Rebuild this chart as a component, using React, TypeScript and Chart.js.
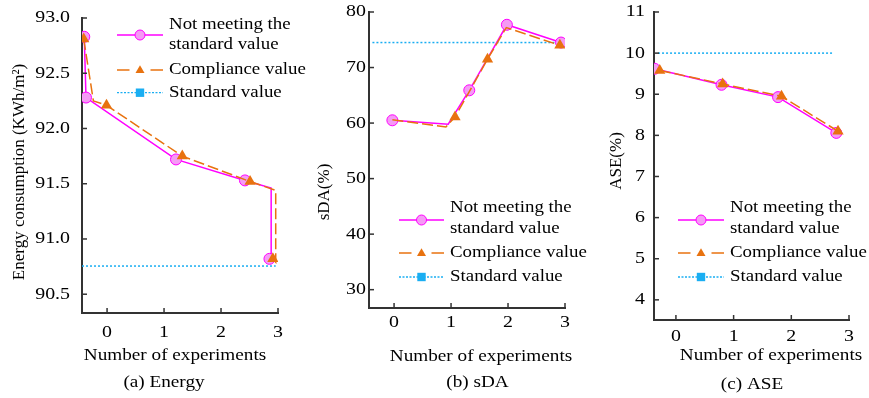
import React, { useEffect, useRef } from 'react';
import { Chart, registerables } from 'chart.js';

Chart.register(...registerables);

// ---------------- DATA ----------------
const seriesLabels = ['Not meeting the standard value', 'Compliance value', 'Standard value'];
const legendFirstLines = ['Not meeting the', 'standard value'];
const xTickValues = [0, 1, 2, 3];

// (a) Energy
const energyNotMeetingX = [-0.40, -0.37, 1.21, 2.42, 2.88, 2.88, 2.85];
const energyNotMeetingY = [92.83, 92.28, 91.72, 91.53, 91.46, 90.84, 90.82];
const energyNotMeetingSampled = [true, true, true, true, false, false, true];
const energyComplianceX = [-0.41, -0.24, -0.01, 1.32, 2.51, 2.96, 2.96, 2.91];
const energyComplianceY = [92.81, 92.25, 92.21, 91.75, 91.52, 91.44, 90.79, 90.82];
const energyComplianceSampled = [true, false, true, true, true, false, false, true];
const energyStandardX = [-0.44, 2.96];
const energyStandardY = [90.755, 90.755];

// (b) sDA
const sdaNotMeetingX = [-0.03, 0.95, 1.32, 1.98, 2.93];
const sdaNotMeetingY = [60.5, 59.8, 65.9, 77.7, 74.5];
const sdaNotMeetingSampled = [true, false, true, true, true];
const sdaComplianceX = [-0.03, 0.91, 1.07, 1.64, 1.97, 2.91];
const sdaComplianceY = [60.6, 59.3, 61.1, 71.5, 77.2, 74.0];
const sdaComplianceSampled = [false, false, true, true, false, true];
const sdaStandardX = [-0.38, 2.94];
const sdaStandardY = [74.5, 74.5];

// (c) ASE
const aseNotMeetingX = [-0.37, 0.79, 1.77, 2.78];
const aseNotMeetingY = [9.62, 9.23, 8.93, 8.06];
const aseNotMeetingSampled = [true, true, true, true];
const aseComplianceX = [-0.28, 0.81, 1.83, 2.81];
const aseComplianceY = [9.58, 9.25, 8.95, 8.10];
const aseComplianceSampled = [true, true, true, true];
const aseStandardX = [-0.31, 2.73];
const aseStandardY = [10, 10];

// ---------------- STYLE ----------------
const FONT = '"Liberation Serif", "Times New Roman", serif';
const MAGENTA = '#FF00FF';
const PINK = '#F59AF5';
const ORANGE = '#E8720F';
const CYAN = '#1AAEF2';
const AXIS = '#333333';
const TEXT = '#000000';
const STRETCH = 1.17;

const zip = (xs: number[], ys: number[]) => xs.map((x, i) => ({ x, y: ys[i] }));

type PanelCfg = {
  left: number; width: number;
  yWidth: number; padRight: number; padTop: number; xHeight: number;
  xMin: number; xMax: number; yMin: number; yMax: number; yStep: number; yDec: number;
  yLabelGap: number; xLabelY: number;
  notX: number[]; notY: number[]; notS: boolean[];
  comX: number[]; comY: number[]; comS: boolean[];
  stdX: number[]; stdY: number[];
  yTitle: string; yTitlePos: [number, number];
  xTitlePos: [number, number]; caption: string; captionPos: [number, number];
  legend: { x1: number; x2: number; tx: number; r1: number; t1: number; t2: number; r2: number; r3: number };
};

const panels: PanelCfg[] = [
  {
    left: 0, width: 320, yWidth: 82, padRight: 42, padTop: 18, xHeight: 85,
    xMin: -0.44, xMax: 3, yMin: 90.33, yMax: 93.0, yStep: 0.5, yDec: 1, yLabelGap: 12, xLabelY: 333,
    notX: energyNotMeetingX, notY: energyNotMeetingY, notS: energyNotMeetingSampled,
    comX: energyComplianceX, comY: energyComplianceY, comS: energyComplianceSampled,
    stdX: energyStandardX, stdY: energyStandardY,
    yTitle: 'Energy consumption (KWh/m\u00B2)', yTitlePos: [20, 172],
    xTitlePos: [175, 356], caption: '(a) Energy', captionPos: [164, 383],
    legend: { x1: 117, x2: 163, tx: 169, r1: 35, t1: 25, t2: 45, r2: 70, r3: 92.7 },
  },
  {
    left: 290, width: 300, yWidth: 79, padRight: 25, padTop: 12, xHeight: 90,
    xMin: -0.44, xMax: 3, yMin: 26.7, yMax: 80, yStep: 10, yDec: 0, yLabelGap: 3, xLabelY: 323,
    notX: sdaNotMeetingX, notY: sdaNotMeetingY, notS: sdaNotMeetingSampled,
    comX: sdaComplianceX, comY: sdaComplianceY, comS: sdaComplianceSampled,
    stdX: sdaStandardX, stdY: sdaStandardY,
    yTitle: 'sDA(%)', yTitlePos: [325, 192],
    xTitlePos: [481, 357], caption: '(b) sDA', captionPos: [477.5, 383],
    legend: { x1: 399, x2: 444, tx: 450, r1: 220, t1: 208, t2: 229, r2: 253, r3: 277 },
  },
  {
    left: 580, width: 289, yWidth: 74, padRight: 20, padTop: 12, xHeight: 78,
    xMin: -0.38, xMax: 3, yMin: 3.51, yMax: 11, yStep: 1, yDec: 0, yLabelGap: 9, xLabelY: 337,
    notX: aseNotMeetingX, notY: aseNotMeetingY, notS: aseNotMeetingSampled,
    comX: aseComplianceX, comY: aseComplianceY, comS: aseComplianceSampled,
    stdX: aseStandardX, stdY: aseStandardY,
    yTitle: 'ASE(%)', yTitlePos: [617, 161],
    xTitlePos: [771, 356], caption: '(c) ASE', captionPos: [752, 385],
    legend: { x1: 678, x2: 724, tx: 730, r1: 220, t1: 208, t2: 229, r2: 253, r3: 277 },
  },
];

function drawTriangle(ctx: CanvasRenderingContext2D, x: number, y: number, r: number) {
  ctx.beginPath();
  ctx.moveTo(x, y - r);
  ctx.lineTo(x + r * 0.866, y + r * 0.5);
  ctx.lineTo(x - r * 0.866, y + r * 0.5);
  ctx.closePath();
  ctx.fill();
}

function text(ctx: CanvasRenderingContext2D, s: string, x: number, y: number, align: CanvasTextAlign, size: number, sx = STRETCH) {
  ctx.save();
  ctx.translate(x, y);
  ctx.scale(sx, 1);
  ctx.font = size + 'px ' + FONT;
  ctx.textAlign = align;
  ctx.textBaseline = 'middle';
  ctx.fillStyle = TEXT;
  ctx.fillText(s, 0, 0);
  ctx.restore();
}

function makeDecor(p: PanelCfg) {
  return {
    id: 'decor' + p.left,
    afterDraw(chart: any) {
      const ctx: CanvasRenderingContext2D = chart.ctx;
      const ox = p.left;
      const xs = chart.scales.x;
      const ys = chart.scales.y;
      const area = chart.chartArea;
      ctx.save();
      // inward tick marks + tick labels
      ctx.strokeStyle = AXIS;
      ctx.lineWidth = 1.5;
      xs.ticks.forEach((t: any) => {
        const px = xs.getPixelForValue(t.value);
        ctx.beginPath();
        ctx.moveTo(px, area.bottom);
        ctx.lineTo(px, area.bottom - 5);
        ctx.stroke();
        text(ctx, String(t.value), px, p.xLabelY, 'center', 17);
      });
      ys.ticks.forEach((t: any) => {
        const py = ys.getPixelForValue(t.value);
        ctx.beginPath();
        ctx.moveTo(area.left, py);
        ctx.lineTo(area.left + 5, py);
        ctx.stroke();
        text(ctx, Number(t.value).toFixed(p.yDec), area.left - p.yLabelGap, py, 'right', 17);
      });
      // titles
      text(ctx, 'Number of experiments', p.xTitlePos[0] - ox, p.xTitlePos[1], 'center', 17, 1.13);
      text(ctx, p.caption, p.captionPos[0] - ox, p.captionPos[1], 'center', 17, 1.13);
      ctx.save();
      ctx.translate(p.yTitlePos[0] - ox, p.yTitlePos[1]);
      ctx.rotate(-Math.PI / 2);
      text(ctx, p.yTitle, 0, 0, 'center', 17, 1);
      ctx.restore();
      // legend
      const L = p.legend;
      const x1 = L.x1 - ox, x2 = L.x2 - ox, mx = (x1 + x2) / 2, tx = L.tx - ox;
      ctx.strokeStyle = MAGENTA;
      ctx.lineWidth = 1.5;
      ctx.setLineDash([]);
      ctx.beginPath(); ctx.moveTo(x1, L.r1); ctx.lineTo(x2, L.r1); ctx.stroke();
      ctx.fillStyle = PINK;
      ctx.lineWidth = 1;
      ctx.beginPath(); ctx.arc(mx, L.r1, 5, 0, Math.PI * 2); ctx.fill(); ctx.stroke();
      ctx.strokeStyle = ORANGE;
      ctx.lineWidth = 1.5;
      ctx.beginPath(); ctx.moveTo(x1, L.r2); ctx.lineTo(x1 + 12.5, L.r2); ctx.stroke();
      ctx.beginPath(); ctx.moveTo(x2 - 12.5, L.r2); ctx.lineTo(x2, L.r2); ctx.stroke();
      ctx.fillStyle = ORANGE;
      drawTriangle(ctx, mx, L.r2 + 0.5, 5.2);
      ctx.strokeStyle = CYAN;
      ctx.lineWidth = 1.3;
      ctx.setLineDash([2, 1.5]);
      ctx.beginPath(); ctx.moveTo(x1, L.r3); ctx.lineTo(x2, L.r3); ctx.stroke();
      ctx.setLineDash([]);
      ctx.fillStyle = CYAN;
      ctx.fillRect(mx - 4.2, L.r3 - 4.2, 8.4, 8.4);
      text(ctx, legendFirstLines[0], tx, L.t1, 'left', 16, 1.18);
      text(ctx, legendFirstLines[1], tx, L.t2, 'left', 16, 1.18);
      text(ctx, seriesLabels[1], tx, L.r2, 'left', 16, 1.18);
      text(ctx, seriesLabels[2], tx, L.r3, 'left', 16, 1.18);
      ctx.restore();
    },
  };
}

function Panel({ p }: { p: PanelCfg }) {
  const ref = useRef<HTMLCanvasElement | null>(null);
  useEffect(() => {
    if (!ref.current) return;
    const chart = new Chart(ref.current, {
      type: 'scatter',
      data: {
        datasets: [
          {
            label: seriesLabels[1],
            data: zip(p.comX, p.comY),
            showLine: true,
            borderColor: ORANGE,
            borderWidth: 1.5,
            borderDash: [11, 4],
            backgroundColor: ORANGE,
            pointStyle: 'triangle',
            pointRadius: (c: any) => (p.comS[c.dataIndex] ? 6.5 : 0),
            pointBorderWidth: 0,
            pointBorderColor: ORANGE,
            pointBackgroundColor: ORANGE,
            order: 0,
          } as any,
          {
            label: seriesLabels[0],
            data: zip(p.notX, p.notY),
            showLine: true,
            borderColor: MAGENTA,
            borderWidth: 1.5,
            backgroundColor: PINK,
            pointStyle: 'circle',
            pointRadius: (c: any) => (p.notS[c.dataIndex] ? 5.5 : 0),
            pointBorderWidth: 1,
            pointBorderColor: MAGENTA,
            pointBackgroundColor: PINK,
            order: 1,
          } as any,
          {
            label: seriesLabels[2],
            data: zip(p.stdX, p.stdY),
            showLine: true,
            borderColor: CYAN,
            borderWidth: 1.5,
            borderDash: [2, 2],
            pointRadius: 0,
            order: 2,
          } as any,
        ],
      },
      options: {
        animation: false,
        responsive: false,
        devicePixelRatio: 1,
        layout: { padding: { left: 0, right: p.padRight, top: p.padTop, bottom: 0 } },
        plugins: { legend: { display: false }, tooltip: { enabled: false }, title: { display: false } },
        elements: { line: { tension: 0 } },
        scales: {
          x: {
            type: 'linear',
            min: p.xMin,
            max: p.xMax,
            afterFit: (s: any) => { s.height = p.xHeight; },
            afterBuildTicks: (s: any) => { s.ticks = xTickValues.filter(v => v >= p.xMin && v <= p.xMax).map(v => ({ value: v })); },
            ticks: { display: false, stepSize: 1, includeBounds: false },
            grid: { display: false, drawTicks: false },
            border: { display: true, color: AXIS, width: 2 },
          },
          y: {
            type: 'linear',
            min: p.yMin,
            max: p.yMax,
            afterFit: (s: any) => { s.width = p.yWidth; },
            ticks: { display: false, stepSize: p.yStep, includeBounds: false },
            grid: { display: false, drawTicks: false },
            border: { display: true, color: AXIS, width: 2 },
          },
        },
      },
      plugins: [makeDecor(p)],
    } as any);
    return () => chart.destroy();
  }, [p]);
  return (
    <canvas
      ref={ref}
      width={p.width}
      height={398}
      style={{ position: 'absolute', left: p.left, top: 0, width: p.width, height: 398, display: 'block' }}
    />
  );
}

export default function App() {
  return (
    <div style={{ position: 'fixed', left: 0, top: 0, width: 869, height: 398, background: '#ffffff', overflow: 'hidden' }}>
      {panels.map((p) => (
        <Panel key={p.left} p={p} />
      ))}
    </div>
  );
}
